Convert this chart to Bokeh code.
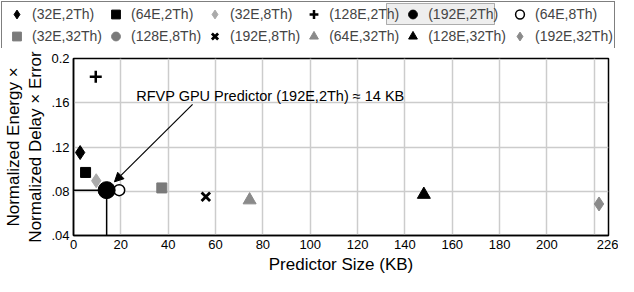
from bokeh.plotting import figure
from bokeh.models import (Range1d, FixedTicker, Legend, LegendItem, Arrow, NormalHead,
                          Label, BoxAnnotation)
from bokeh.embed import file_html
from bokeh.resources import INLINE

# ---- data ----
configs = ["(32E,2Th)", "(64E,2Th)", "(32E,8Th)", "(128E,2Th)", "(192E,2Th)", "(64E,8Th)",
           "(32E,32Th)", "(128E,8Th)", "(192E,8Th)", "(64E,32Th)", "(128E,32Th)", "(192E,32Th)"]
size_kb = [2.8, 5.1, 9.6, 9.4, 14.0, 19.3, 37.3, 14.0, 55.9, 74.4, 148.0, 222.0]
metric = [0.115, 0.097, 0.0895, 0.1835, 0.081, 0.081, 0.083, 0.081, 0.075, 0.072, 0.077, 0.0685]
highlight = "(192E,2Th)"
x_ticks = [0, 20, 40, 60, 80, 100, 120, 140, 160, 180, 200, 226]
x_grid = [0, 20, 40, 60, 80, 100, 120, 140, 160, 180, 200, 220]
y_ticks = [0.04, 0.08, 0.12, 0.16, 0.2]
y_tick_labels = [".04", ".08", ".12", ".16", "0.2"]

# ---- styles ----
styles = {
    "(32E,2Th)":  dict(marker="diamond", color="black", size=14),
    "(64E,2Th)":  dict(marker="square", color="black", size=10),
    "(32E,8Th)":  dict(marker="diamond", color="#aaaaaa", size=14),
    "(128E,2Th)": dict(marker="cross", color="black", size=12, line_width=2.5),
    "(192E,2Th)": dict(marker="circle", color="black", size=17),
    "(64E,8Th)":  dict(marker="circle", color="black", fill="white", size=11, line_width=1.5),
    "(32E,32Th)": dict(marker="square", color="#7a7a7a", size=10),
    "(128E,8Th)": dict(marker="circle", color="#7a7a7a", size=11),
    "(192E,8Th)": dict(marker="x", color="black", size=12, line_width=2.8),
    "(64E,32Th)": dict(marker="triangle", color="#8a8a8a", size=13),
    "(128E,32Th)": dict(marker="triangle", color="black", size=13),
    "(192E,32Th)": dict(marker="diamond", color="#8a8a8a", size=14),
}
FONT = "Liberation Sans"
W = 618
LEG_H = 48
MAIN_H = 276 - LEG_H

# ---------------- main plot ----------------
p = figure(width=W, height=MAIN_H, output_backend="svg", toolbar_location=None,
           x_range=Range1d(0, 226), y_range=Range1d(0.04, 0.2),
           min_border_top=10, min_border_bottom=40, min_border_left=60, min_border_right=10)
p.outline_line_color = "black"
p.outline_line_width = 1.5

for ax in (p.xaxis[0], p.yaxis[0]):
    ax.major_tick_line_color = None
    ax.minor_tick_line_color = None
    ax.major_tick_out = 0
    ax.major_tick_in = 0
    ax.axis_line_color = "black"
    ax.axis_line_width = 1.5
    ax.major_label_text_font = FONT
    ax.major_label_text_font_size = "13px"
    ax.major_label_text_color = "black"
    ax.axis_label_text_font = FONT
    ax.axis_label_text_font_size = "17px"
    ax.axis_label_text_font_style = "normal"
    ax.axis_label_text_color = "black"
    ax.major_label_standoff = 4
    ax.axis_label_standoff = 3

p.xaxis.ticker = FixedTicker(ticks=x_ticks)
p.yaxis.ticker = FixedTicker(ticks=y_ticks)
p.yaxis.major_label_overrides = {t: l for t, l in zip(y_ticks, y_tick_labels)}
p.xaxis.axis_label = "Predictor Size (KB)"
p.yaxis.axis_label = "Normalized Energy \u00d7\nNormalized Delay \u00d7 Error"

p.xgrid.ticker = FixedTicker(ticks=x_grid)
p.ygrid.ticker = FixedTicker(ticks=y_ticks)
for g in (p.xgrid[0], p.ygrid[0]):
    g.grid_line_color = "#cccccc"
    g.grid_line_width = 1.5

# guide lines to the highlighted point
hi = configs.index(highlight)
hx, hy = size_kb[hi], metric[hi]
p.segment(x0=[0, hx], y0=[hy, 0.04], x1=[hx, hx], y1=[hy, hy], line_color="black", line_width=1.5)

draw_order = [c for c in configs if c != highlight and c != "(128E,8Th)"]
draw_order = ["(128E,8Th)"] + draw_order + [highlight]
for name in draw_order:
    i = configs.index(name)
    st = styles[name]
    p.scatter(x=[size_kb[i]], y=[metric[i]], marker=st["marker"], size=st["size"],
              line_color=st["color"], fill_color=st.get("fill", st["color"]),
              line_width=st.get("line_width", 1))

# annotation
p.add_layout(Arrow(end=NormalHead(size=9, fill_color="black", line_color="black"),
                   x_start=50.3, y_start=0.1585, x_end=17.3, y_end=0.0885,
                   line_color="black", line_width=1.2))
p.add_layout(Label(x=26.5, y=0.166, text="RFVP GPU Predictor (192E,2Th) \u2248 14 KB",
                   text_font=FONT, text_font_size="14.5px", text_baseline="middle",
                   text_color="black"))

# ---------------- legend strip (separate root, so it is not frame-aligned) ----------------
lf = figure(width=W, height=LEG_H, output_backend="svg", toolbar_location=None,
            x_range=Range1d(0, 226), y_range=Range1d(0.04, 0.2),
            x_axis_location=None, y_axis_location=None, min_border=0)
lf.outline_line_color = None
lf.grid.visible = False

leg_renderers = {}
for name in configs:
    i = configs.index(name)
    st = styles[name]
    leg_renderers[name] = lf.scatter(x=[size_kb[i]], y=[metric[i]], marker=st["marker"],
                                     size=st["size"], line_color=st["color"],
                                     fill_color=st.get("fill", st["color"]),
                                     line_width=st.get("line_width", 1), visible=False)

# highlight box behind the "(192E,2Th)" entry
lf.add_layout(BoxAnnotation(left=386, right=494, top=LEG_H - 3, bottom=LEG_H - 24,
                            left_units="screen", right_units="screen",
                            top_units="screen", bottom_units="screen",
                            fill_color="#eeeeee", fill_alpha=1.0,
                            line_color="black", line_width=1, level="underlay"))

items = [LegendItem(label=c, renderers=[leg_renderers[c]]) for c in configs]
legend = Legend(items=items, orientation="horizontal", ncols=6,
                location="top_left", margin=1, padding=1, spacing=0,
                glyph_width=27, glyph_height=22, label_standoff=2,
                label_width=70, label_height=22,
                label_text_font=FONT, label_text_font_size="14px",
                border_line_color="black", border_line_width=1.5,
                background_fill_alpha=0.0, inactive_fill_alpha=0.0)
lf.add_layout(legend, "center")

open("out.html", "w").write(file_html([lf, p], INLINE))
